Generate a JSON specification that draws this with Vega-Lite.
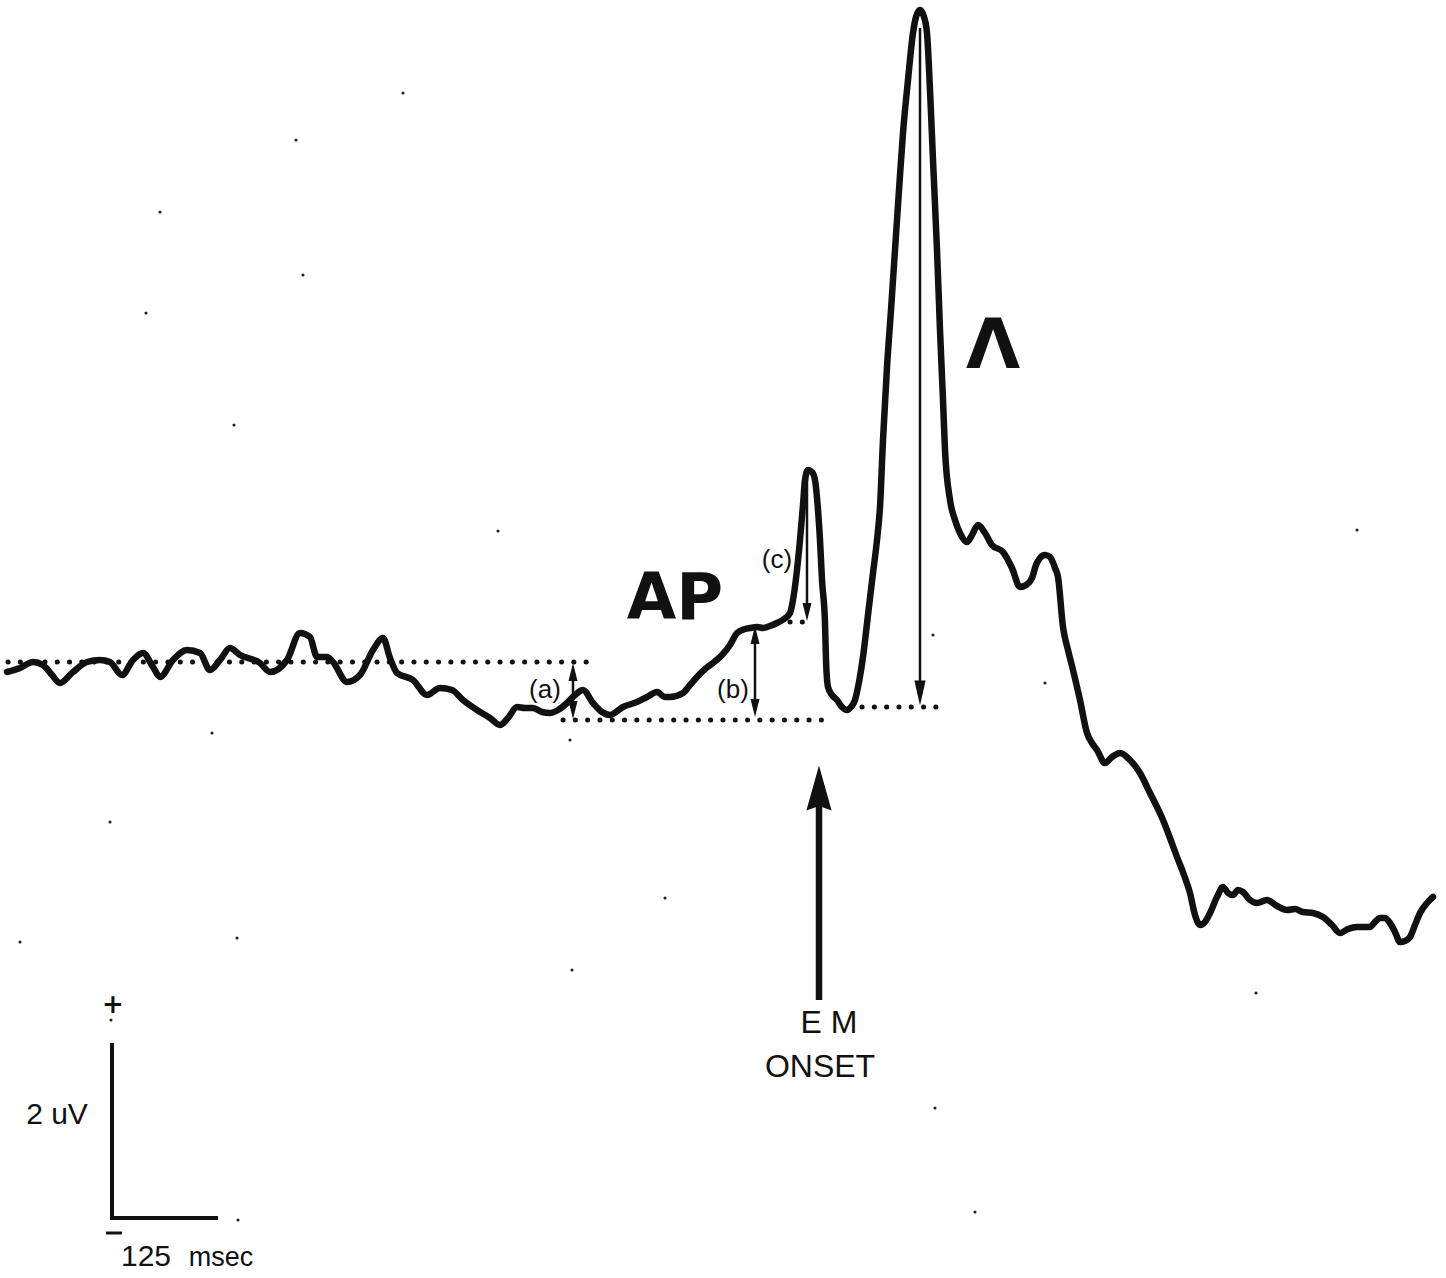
{
  "$schema": "https://vega.github.io/schema/vega-lite/v6.json",
  "width": 1446,
  "height": 1278,
  "autosize": {"type": "fit", "contains": "padding"},
  "padding": 0,
  "background": "white",
  "config": {"view": {"stroke": null}},
  "datasets": {
    "wave": [
      {"x":7,"y":672},{"x":20,"y":668},{"x":33,"y":662},{"x":43,"y":665},{"x":52,"y":675},{"x":60,"y":683},{"x":73,"y":672},{"x":87,"y":662},{"x":100,"y":660},{"x":110,"y":662},{"x":122,"y":675},{"x":133,"y":660},{"x":143,"y":653},{"x":153,"y":667},{"x":160,"y":677},{"x":173,"y":660},{"x":187,"y":650},{"x":200,"y":653},{"x":210,"y":670},{"x":220,"y":660},{"x":230,"y":648},{"x":240,"y":655},{"x":260,"y":663},{"x":270,"y":672},{"x":287,"y":660},{"x":300,"y":633},{"x":310,"y":637},{"x":317,"y":657},{"x":327,"y":657},{"x":333,"y":662},{"x":347,"y":682},{"x":360,"y":675},{"x":373,"y":650},{"x":383,"y":638},{"x":390,"y":658},{"x":397,"y":673},{"x":413,"y":680},{"x":427,"y":695},{"x":440,"y":688},{"x":452,"y":690},{"x":463,"y":700},{"x":477,"y":710},{"x":490,"y":718},{"x":500,"y":725},{"x":508,"y":718},{"x":517,"y":707},{"x":525,"y":708},{"x":533,"y":708},{"x":542,"y":712},{"x":550,"y":713},{"x":558,"y":710},{"x":567,"y":703},{"x":575,"y":695},{"x":583,"y":690},{"x":593,"y":703},{"x":602,"y":712},{"x":610,"y":715},{"x":623,"y":707},{"x":637,"y":702},{"x":647,"y":697},{"x":657,"y":692},{"x":665,"y":697},{"x":670,"y":697},{"x":683,"y":693},{"x":690,"y":685},{"x":697,"y":677},{"x":705,"y":669},{"x":713,"y":663},{"x":722,"y":655},{"x":730,"y":645},{"x":737,"y":633},{"x":745,"y":629},{"x":750,"y":628},{"x":757,"y":627},{"x":763,"y":628},{"x":770,"y":626},{"x":777,"y":623},{"x":784,"y":619},{"x":790,"y":613},{"x":793,"y":600},{"x":797,"y":570},{"x":800,"y":540},{"x":803,"y":505},{"x":805,"y":480},{"x":808,"y":470},{"x":812,"y":472},{"x":815,"y":480},{"x":818,"y":510},{"x":820,"y":540},{"x":822,"y":580},{"x":825,"y":623},{"x":826,"y":660},{"x":828,"y":687},{"x":832,"y":695},{"x":837,"y":700},{"x":842,"y":707},{"x":847,"y":710},{"x":851,"y":707},{"x":855,"y":700},{"x":859,"y":682},{"x":863,"y":657},{"x":868,"y":615},{"x":873,"y":573},{"x":877,"y":540},{"x":880,"y":507},{"x":883,"y":440},{"x":887,"y":367},{"x":891,"y":310},{"x":895,"y":250},{"x":899,"y":190},{"x":903,"y":133},{"x":908,"y":80},{"x":913,"y":33},{"x":916,"y":17},{"x":920,"y":10},{"x":924,"y":17},{"x":927,"y":33},{"x":930,"y":90},{"x":933,"y":160},{"x":937,"y":250},{"x":940,"y":330},{"x":943,"y":400},{"x":945,"y":450},{"x":950,"y":500},{"x":955,"y":520},{"x":960,"y":533},{"x":967,"y":542},{"x":972,"y":535},{"x":978,"y":525},{"x":985,"y":533},{"x":992,"y":545},{"x":1003,"y":552},{"x":1012,"y":568},{"x":1020,"y":587},{"x":1026,"y":585},{"x":1032,"y":578},{"x":1036,"y":565},{"x":1040,"y":558},{"x":1045,"y":555},{"x":1050,"y":557},{"x":1055,"y":568},{"x":1058,"y":577},{"x":1063,"y":627},{"x":1068,"y":650},{"x":1073,"y":670},{"x":1080,"y":700},{"x":1087,"y":733},{"x":1092,"y":743},{"x":1097,"y":750},{"x":1105,"y":763},{"x":1112,"y":757},{"x":1120,"y":753},{"x":1130,"y":760},{"x":1140,"y":773},{"x":1150,"y":793},{"x":1163,"y":820},{"x":1170,"y":838},{"x":1177,"y":857},{"x":1184,"y":875},{"x":1190,"y":893},{"x":1195,"y":915},{"x":1200,"y":925},{"x":1205,"y":922},{"x":1210,"y":913},{"x":1217,"y":897},{"x":1223,"y":887},{"x":1228,"y":893},{"x":1233,"y":895},{"x":1238,"y":890},{"x":1243,"y":892},{"x":1250,"y":900},{"x":1257,"y":903},{"x":1267,"y":900},{"x":1277,"y":906},{"x":1287,"y":910},{"x":1295,"y":909},{"x":1303,"y":912},{"x":1313,"y":913},{"x":1323,"y":917},{"x":1332,"y":925},{"x":1340,"y":933},{"x":1348,"y":929},{"x":1357,"y":927},{"x":1365,"y":927},{"x":1370,"y":927},{"x":1375,"y":922},{"x":1380,"y":918},{"x":1385,"y":918},{"x":1390,"y":923},{"x":1395,"y":932},{"x":1400,"y":942},{"x":1405,"y":941},{"x":1410,"y":937},{"x":1415,"y":925},{"x":1420,"y":913},{"x":1427,"y":903},{"x":1433,"y":897}
    ],
    "dotted": [
      {"x": 8, "x2": 590, "y": 662},
      {"x": 563, "x2": 828, "y": 720},
      {"x": 862, "x2": 938, "y": 707},
      {"x": 790, "x2": 807, "y": 622}
    ],
    "thinArrows": [
      {"x": 573, "y": 672, "y2": 710},
      {"x": 755, "y": 635, "y2": 708},
      {"x": 807, "y": 478, "y2": 610},
      {"x": 920, "y": 28, "y2": 692}
    ],
    "headsUp": [
      {"x": 573, "y": 672},
      {"x": 755, "y": 635}
    ],
    "headsDown": [
      {"x": 573, "y": 710},
      {"x": 755, "y": 708},
      {"x": 807, "y": 612}
    ],
    "mainHead": [{"x": 920, "y": 693}],
    "emShaft": [{"x": 819, "y": 800, "y2": 1000}],
    "emHead": [{"x": 819, "y": 788}],
    "scaleV": [{"x": 112, "y": 1043, "y2": 1218}],
    "scaleH": [{"x": 110, "x2": 218, "y": 1218}],
    "minus": [{"x": 106, "x2": 122, "y": 1233}],
    "noise": [
      {"x":403,"y":93},{"x":296,"y":140},{"x":160,"y":212},{"x":303,"y":275},{"x":146,"y":313},{"x":234,"y":425},{"x":498,"y":531},{"x":1357,"y":530},{"x":212,"y":733},{"x":570,"y":740},{"x":110,"y":822},{"x":665,"y":898},{"x":20,"y":942},{"x":237,"y":938},{"x":572,"y":970},{"x":1256,"y":993},{"x":935,"y":1108},{"x":975,"y":1212},{"x":238,"y":1220},{"x":1045,"y":683},{"x":933,"y":635},{"x":111,"y":1020}
    ],
    "small": [
      {"x": 545, "y": 698, "t": "(a)"},
      {"x": 733, "y": 698, "t": "(b)"},
      {"x": 777, "y": 568, "t": "(c)"}
    ],
    "big": [
      {"x": 675, "y": 619, "t": "AP"}
    ],
    "lambda": [
      {"x": 993, "y": 368, "t": "Λ"}
    ],
    "em": [
      {"x": 829, "y": 1033, "t": "E M"},
      {"x": 820, "y": 1077, "t": "ONSET"}
    ],
    "scaleText": [
      {"x": 57, "y": 1124, "t": "2 uV"},
      {"x": 146, "y": 1266, "t": "125"}
    ],
    "msec": [
      {"x": 221, "y": 1266, "t": "msec"}
    ],
    "plus": [
      {"x": 113, "y": 1005, "t": "+"}
    ]
  },
  "encoding": {
    "x": {"field": "x", "type": "quantitative", "scale": {"domain": [0, 1446], "nice": false, "zero": false}, "axis": null},
    "y": {"field": "y", "type": "quantitative", "scale": {"domain": [0, 1278], "reverse": true, "nice": false, "zero": false}, "axis": null}
  },
  "layer": [
    {
      "data": {"name": "noise"},
      "mark": {"type": "point", "filled": true, "size": 10, "color": "#222", "opacity": 1}
    },
    {
      "data": {"name": "dotted"},
      "mark": {"type": "rule", "strokeWidth": 5, "strokeDash": [0.1, 12.2], "strokeCap": "round", "color": "#111"},
      "encoding": {"x2": {"field": "x2"}}
    },
    {
      "data": {"name": "thinArrows"},
      "mark": {"type": "rule", "strokeWidth": 2.5, "color": "#111"},
      "encoding": {"y2": {"field": "y2"}}
    },
    {
      "data": {"name": "headsUp"},
      "mark": {"type": "point", "filled": true, "opacity": 1, "color": "#111", "size": 324, "shape": "M0,-1L0.5,1L-0.5,1Z"}
    },
    {
      "data": {"name": "headsDown"},
      "mark": {"type": "point", "filled": true, "opacity": 1, "color": "#111", "size": 324, "shape": "M0,1L0.5,-1L-0.5,-1Z"}
    },
    {
      "data": {"name": "mainHead"},
      "mark": {"type": "point", "filled": true, "opacity": 1, "color": "#111", "size": 625, "shape": "M0,1L0.45,-1L-0.45,-1Z"}
    },
    {
      "data": {"name": "emShaft"},
      "mark": {"type": "rule", "strokeWidth": 6.5, "color": "#111"},
      "encoding": {"y2": {"field": "y2"}}
    },
    {
      "data": {"name": "emHead"},
      "mark": {"type": "point", "filled": true, "opacity": 1, "color": "#111", "size": 2025, "shape": "M0,-1L0.56,1L0,0.8L-0.56,1Z"}
    },
    {
      "data": {"name": "scaleV"},
      "mark": {"type": "rule", "strokeWidth": 4, "color": "#111"},
      "encoding": {"y2": {"field": "y2"}}
    },
    {
      "data": {"name": "scaleH"},
      "mark": {"type": "rule", "strokeWidth": 4, "color": "#111"},
      "encoding": {"x2": {"field": "x2"}}
    },
    {
      "data": {"name": "minus"},
      "mark": {"type": "rule", "strokeWidth": 3, "color": "#111"},
      "encoding": {"x2": {"field": "x2"}}
    },
    {
      "data": {"name": "wave"},
      "mark": {"type": "line", "strokeWidth": 6.5, "color": "#111", "interpolate": "monotone", "strokeJoin": "round", "strokeCap": "round"}
    },
    {
      "data": {"name": "small"},
      "mark": {"type": "text", "font": "Liberation Sans", "fontSize": 26, "align": "center", "baseline": "alphabetic", "color": "#111"},
      "encoding": {"text": {"field": "t"}}
    },
    {
      "data": {"name": "big"},
      "mark": {"type": "text", "font": "DejaVu Sans", "fontWeight": "bold", "fontSize": 64, "align": "center", "baseline": "alphabetic", "color": "#111"},
      "encoding": {"text": {"field": "t"}}
    },
    {
      "data": {"name": "lambda"},
      "mark": {"type": "text", "font": "DejaVu Sans", "fontWeight": "bold", "fontSize": 70, "align": "center", "baseline": "alphabetic", "color": "#111"},
      "encoding": {"text": {"field": "t"}}
    },
    {
      "data": {"name": "em"},
      "mark": {"type": "text", "font": "Liberation Sans", "fontSize": 32, "align": "center", "baseline": "alphabetic", "color": "#111"},
      "encoding": {"text": {"field": "t"}}
    },
    {
      "data": {"name": "scaleText"},
      "mark": {"type": "text", "font": "Liberation Sans", "fontSize": 30, "align": "center", "baseline": "alphabetic", "color": "#111"},
      "encoding": {"text": {"field": "t"}}
    },
    {
      "data": {"name": "msec"},
      "mark": {"type": "text", "font": "Liberation Sans", "fontSize": 27, "align": "center", "baseline": "alphabetic", "color": "#111"},
      "encoding": {"text": {"field": "t"}}
    },
    {
      "data": {"name": "plus"},
      "mark": {"type": "text", "font": "DejaVu Sans", "fontWeight": "bold", "fontSize": 26, "align": "center", "baseline": "middle", "color": "#111"},
      "encoding": {"text": {"field": "t"}}
    }
  ]
}
